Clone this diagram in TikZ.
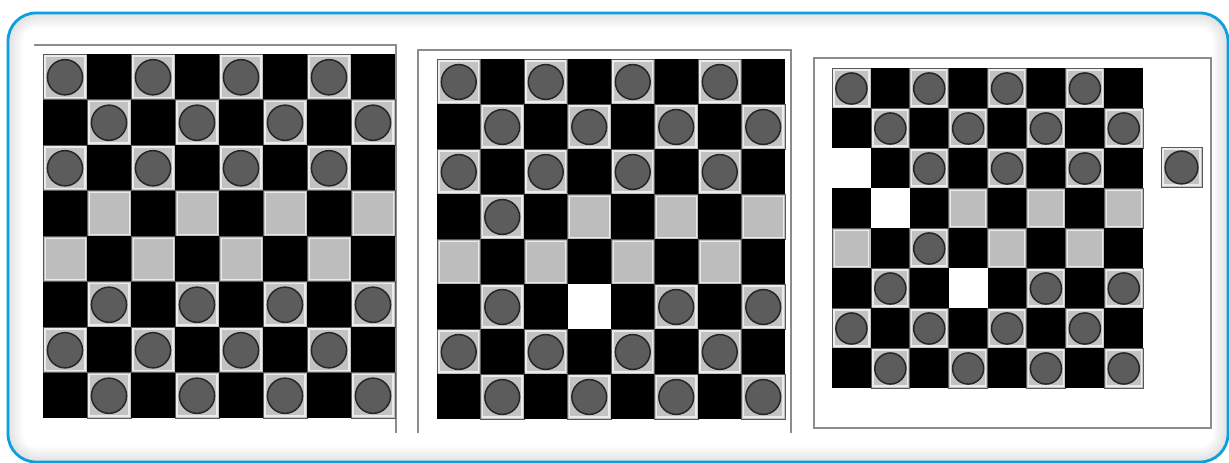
\documentclass[tikz,border=0pt]{standalone}
\definecolor{frameblue}{HTML}{0AA0E0}
\definecolor{pieceg}{HTML}{5C5C5C}
\definecolor{piecedk}{HTML}{262626}
\definecolor{lightsq}{HTML}{C2C2C2}
\definecolor{emptysq}{HTML}{BDBDBD}
\definecolor{framegray}{HTML}{8C8C8C}
\tikzset{
  sqedge/.style={draw=gray!70!black,line width=0.7},
  innerhl/.style={draw=white!85!gray,line width=1.3},
  piece/.style={fill=pieceg,draw=piecedk,line width=1.5},
  boardframe/.style={draw=framegray,line width=2}
}
\newcommand\cellP[4]{%
  \fill[lightsq] (#1,#2) rectangle ++(#3,#4);
  \path[innerhl] (#1+2,#2+2) rectangle (#1+#3-2,#2+#4-2);
  \path[sqedge] (#1,#2) rectangle ++(#3,#4);
  \path[piece] (#1+#3/2,#2+#4/2+0.5) circle[radius=0.4*#3];
}
\newcommand\cellG[4]{%
  \fill[emptysq] (#1,#2) rectangle ++(#3,#4);
  \draw[white!70!emptysq,line width=1] (#1+2,#2+2) rectangle (#1+#3-2,#2+#4-2);
  \path[sqedge] (#1,#2) rectangle ++(#3,#4);
}
\newcommand\cellW[4]{%
  \fill[white] (#1,#2) rectangle ++(#3,#4);
}
\newcommand\cellB[4]{%
  \fill[black] (#1,#2) rectangle ++(#3,#4);
}
\newcommand\drawboard[5]{%
  \foreach \rowspec [count=\rr from 0] in {#5} {
    \foreach \cc [count=\kk from 0] in \rowspec {
      \pgfmathsetmacro\cx{#1+\kk*#3}
      \pgfmathsetmacro\cy{#2+\rr*#4}
      \csname cell\cc\endcsname{\cx}{\cy}{#3}{#4}
    }
  }
}
\begin{document}
\begin{tikzpicture}[x=1pt,y=-1pt]
\useasboundingbox (0,0) rectangle (1229,463);
\fill[white] (0,0) rectangle (1229,463);
% inner shadow of the outer panel
\foreach \i in {1,...,16} {
  \pgfmathsetmacro\op{0.09*(1-\i/16)}
  \pgfmathsetmacro\rad{28-\i}
  \draw[black,opacity=\op,line width=1.3,rounded corners=\rad]
    (8+\i,13+\i) rectangle (1228-\i,462-\i);
}
\draw[frameblue,line width=2.8,rounded corners=28] (8,13) rectangle (1228,462);

% board 1
\path[boardframe] (34,45) -- (396,45) -- (396,433);
\drawboard{43}{54}{44}{45.5}{
 {P,B,P,B,P,B,P,B},
 {B,P,B,P,B,P,B,P},
 {P,B,P,B,P,B,P,B},
 {B,G,B,G,B,G,B,G},
 {G,B,G,B,G,B,G,B},
 {B,P,B,P,B,P,B,P},
 {P,B,P,B,P,B,P,B},
 {B,P,B,P,B,P,B,P}}

% board 2
\path[boardframe] (418,433) -- (418,50) -- (791,50) -- (791,433);
\drawboard{437}{59}{43.5}{45}{
 {P,B,P,B,P,B,P,B},
 {B,P,B,P,B,P,B,P},
 {P,B,P,B,P,B,P,B},
 {B,P,B,G,B,G,B,G},
 {G,B,G,B,G,B,G,B},
 {B,P,B,W,B,P,B,P},
 {P,B,P,B,P,B,P,B},
 {B,P,B,P,B,P,B,P}}

% board 3
\path[boardframe] (814,58) rectangle (1211,428);
\drawboard{832}{68}{38.9}{40}{
 {P,B,P,B,P,B,P,B},
 {B,P,B,P,B,P,B,P},
 {W,B,P,B,P,B,P,B},
 {B,W,B,G,B,G,B,G},
 {G,B,P,B,G,B,G,B},
 {B,P,B,W,B,P,B,P},
 {P,B,P,B,P,B,P,B},
 {B,P,B,P,B,P,B,P}}

% captured piece
\cellP{1161}{147}{41}{40}
\end{tikzpicture}
\end{document}
